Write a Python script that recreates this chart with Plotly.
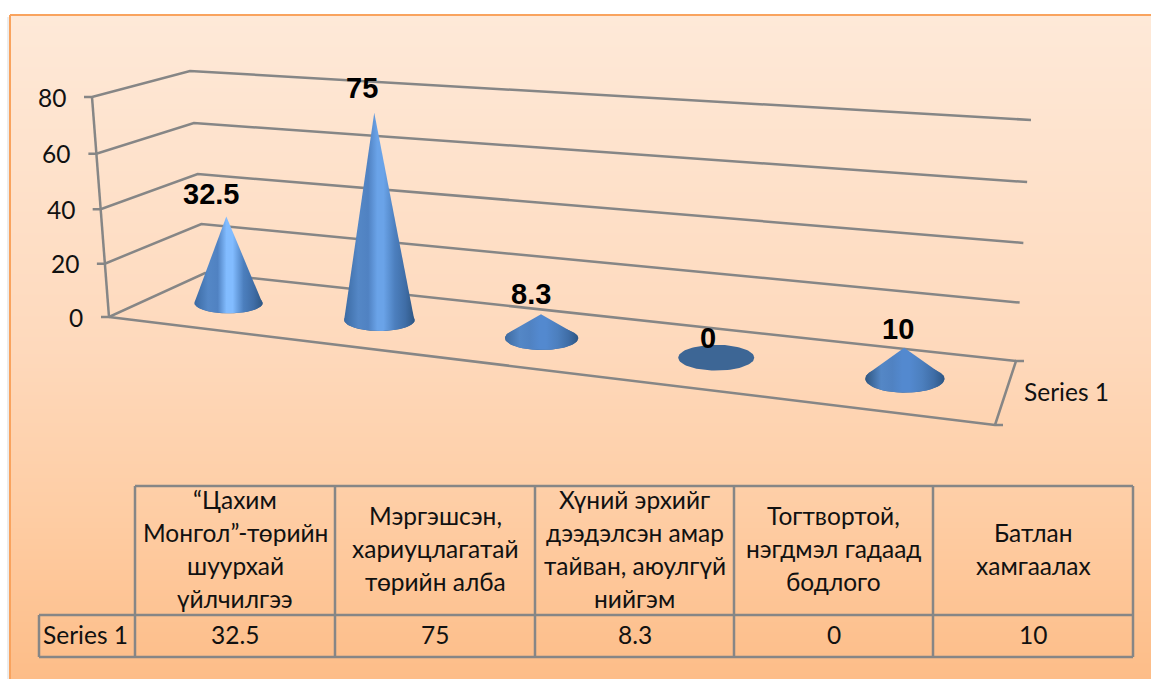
import numpy as np
import plotly.graph_objects as go

# ---- data -------------------------------------------------------------
categories = [
    "“Цахим<br>Монгол”-төрийн<br>шуурхай<br>үйлчилгээ",
    "Мэргэшсэн,<br>хариуцлагатай<br>төрийн алба",
    "Хүний эрхийг<br>дээдэлсэн амар<br>тайван, аюулгүй<br>нийгэм",
    "Тогтвортой,<br>нэгдмэл гадаад<br>бодлого",
    "Батлан<br>хамгаалах",
]
series_name = "Series 1"
values = [32.5, 75, 8.3, 0, 10]
value_labels = ["32.5", "75", "8.3", "0", "10"]
y_ticks = [0, 20, 40, 60, 80]

# ---- projection of the 3-D box on the page ----------------------------
W, H = 1151, 679
Y_MAX = y_ticks[-1]
FL0, FL1 = np.array([109, 317.]), np.array([92, 97.])     # front-left axis
BL0, BL1 = np.array([205, 273.]), np.array([190, 71.])    # back-left corner
BR0, BR1 = np.array([1016, 361.]), np.array([1031, 120.]) # back-right corner
FR0 = np.array([995, 425.])                               # front-right floor
MID0, MID1 = np.array([157, 295.]), np.array([1005, 390.])
PERSP_W = 0.83
PERSP_V = 0.96


def lerp(a, b, t):
    return a + (b - a) * t


def persp(u):
    return 1 / (1 - u + PERSP_W * u)


def height_frac(t):
    return PERSP_V * t / (1 - t + PERSP_V * t)


def floor_point(u):
    return lerp(MID0, MID1, PERSP_W * u * persp(u))


FONT = "Lato"
GREY = "#868686"
TEXT = "#111111"
FS = 24.5
fig = go.Figure()

# ---- background -------------------------------------------------------
bg_y = np.linspace(15, H, 40)
fig.add_trace(go.Heatmap(
    x=[10, W], y=bg_y, z=[[yy, yy] for yy in bg_y], zmin=15, zmax=H, zsmooth="best",
    showscale=False, hoverinfo="skip",
    colorscale=[[0, "#FEE9D8"], [0.5, "#FED9BC"], [0.75, "#FECDA4"], [1, "#FDBD88"]],
))


def line(xs, ys, color=GREY, width=2.5):
    fig.add_trace(go.Scatter(x=xs, y=ys, mode="lines", hoverinfo="skip", showlegend=False,
                             line=dict(color=color, width=width, simplify=False)))


# ---- walls & gridlines ------------------------------------------------
for v in y_ticks:
    t = height_frac(v / Y_MAX)
    a, b, c = lerp(FL0, FL1, t), lerp(BL0, BL1, t), lerp(BR0, BR1, t)
    line([a[0] - 8, a[0], b[0], c[0]], [a[1], a[1], b[1], c[1]])
line([FL0[0], FL1[0]], [FL0[1], FL1[1]])
line([FL0[0], FR0[0], FR0[0] + 8], [FL0[1], FR0[1], FR0[1]])
line([FR0[0], BR0[0], BR0[0] + 8], [FR0[1], BR0[1], BR0[1]])

# ---- cones ------------------------------------------------------------
annotations = []
shade_bright = ["#82BCFF", "#6AA3E8", "#5389CF", "#5389CF", "#5389CF"]
shade_edge = ["#3B6AA3", "#3B6AA3", "#3E6A9F", "#3E6A9F", "#2F5680"]
BASE = "#3D6695"

for i, v in enumerate(values):
    u = (i + 0.5) / len(values)
    p = persp(u)
    cx, cy = floor_point(u)
    a, b = 33.5 * p, 10 * p ** 2
    h = 2.62 * p * v
    ax, ay = cx - 0.07 * v, cy - h
    th = np.linspace(0, 2 * np.pi, 90)
    fig.add_trace(go.Scatter(x=cx + a * np.cos(th), y=cy + b * np.sin(th), mode="lines", fill="toself",
                             fillcolor=BASE, line=dict(width=0), hoverinfo="skip", showlegend=False))
    if h > b:
        s = b / h                       # tangent points of the silhouette
        t0 = np.arcsin(s)
        arc = np.linspace(-t0, np.pi + t0, 60)
        xs = np.r_[ax, cx + a * np.cos(arc), ax]
        ys = np.r_[ay, cy + b * np.sin(arc), ay]
        fig.add_trace(go.Scatter(
            x=xs, y=ys, mode="lines", fill="toself", hoverinfo="skip", showlegend=False,
            line=dict(width=0, color="rgba(0,0,0,0)"),
            fillgradient=dict(type="horizontal", colorscale=[
                [0, shade_edge[i]], [0.2, "#5487C6"], [0.34, "#5082C2"],
                [0.47, shade_bright[i]], [0.56, shade_bright[i]], [0.72, "#4C7FBE"],
                [0.87, "#3F6DA6"], [1, "#2E5683"]]),
        ))
    annotations.append(dict(x=ax - 16 + 11 * u, y=ay - 20 - 0.06 * v + (1.5 if i == 4 else 0),
                            text=f"<b>{value_labels[i]}</b>", showarrow=False,
                            font=dict(family="Liberation Sans", size=29, color="#000000"),
                            xanchor="center", yanchor="middle"))

# ---- axis labels ------------------------------------------------------
for v in y_ticks:
    a = lerp(FL0, FL1, height_frac(v / Y_MAX))
    annotations.append(dict(x=a[0] - 24, y=a[1], text=str(v), showarrow=False, xanchor="right", yanchor="middle",
                            font=dict(family=FONT, size=FS, color=TEXT)))
annotations.append(dict(x=1022, y=391, text=series_name, showarrow=False, xanchor="left", yanchor="middle",
                        font=dict(family=FONT, size=FS, color=TEXT)))

# ---- data table -------------------------------------------------------
col_x = [135, 335, 535, 734, 933, 1133]
row_top, row_mid, row_bot, row_left = 486, 615, 657, 39
LINE_H = 33
TEXT_UP = 2
shapes = []
for xx in col_x:
    shapes.append(dict(type="line", x0=xx, x1=xx, y0=row_top, y1=row_bot))
shapes.append(dict(type="line", x0=row_left, x1=row_left, y0=row_mid, y1=row_bot))
shapes.append(dict(type="line", x0=col_x[0], x1=col_x[-1], y0=row_top, y1=row_top))
shapes.append(dict(type="line", x0=row_left, x1=col_x[-1], y0=row_mid, y1=row_mid))
shapes.append(dict(type="line", x0=row_left, x1=col_x[-1], y0=row_bot, y1=row_bot))
for s in shapes:
    s["line"] = dict(color=GREY, width=2.5)
    s["layer"] = "above"

for i, c in enumerate(categories):
    xc = (col_x[i] + col_x[i + 1]) / 2
    parts = c.split("<br>")
    y0 = (row_top + row_mid) / 2 - (len(parts) - 1) * LINE_H / 2 - TEXT_UP
    for j, part in enumerate(parts):
        annotations.append(dict(x=xc, y=y0 + j * LINE_H, text=part, showarrow=False, xanchor="center", yanchor="middle",
                                font=dict(family=FONT, size=FS, color=TEXT)))
    annotations.append(dict(x=xc, y=(row_mid + row_bot) / 2 - TEXT_UP, text=value_labels[i], showarrow=False,
                            xanchor="center", yanchor="middle", font=dict(family=FONT, size=FS, color=TEXT)))
annotations.append(dict(x=41, y=(row_mid + row_bot) / 2 - TEXT_UP, text=series_name, showarrow=False, xanchor="left",
                        yanchor="middle", font=dict(family=FONT, size=FS, color=TEXT)))

# ---- frame ------------------------------------------------------------
shapes.append(dict(type="rect", x0=0, x1=W, y0=0, y1=15, line=dict(width=0), fillcolor="white", layer="above"))
shapes.append(dict(type="rect", x0=0, x1=10, y0=0, y1=H, line=dict(width=0), fillcolor="white", layer="above"))
shapes.append(dict(type="line", x0=10, x1=W, y0=15, y1=15, line=dict(color="#F9A35E", width=2), layer="above"))
shapes.append(dict(type="line", x0=10, x1=10, y0=15, y1=H, line=dict(color="#F9A35E", width=2), layer="above"))
shapes.append(dict(type="line", x0=8, x1=8, y0=17, y1=H, line=dict(color="#EDEDED", width=2), layer="above"))

fig.update_layout(
    width=W, height=H, margin=dict(l=0, r=0, t=0, b=0),
    paper_bgcolor="white", plot_bgcolor="white", showlegend=False,
    xaxis=dict(range=[0, W], visible=False, fixedrange=True),
    yaxis=dict(range=[H, 0], visible=False, fixedrange=True),
    annotations=annotations, shapes=shapes,
)
fig.write_html("out.html", config=dict(displayModeBar=False),
               post_script="document.body.style.margin='0';document.body.style.overflow='hidden';")
